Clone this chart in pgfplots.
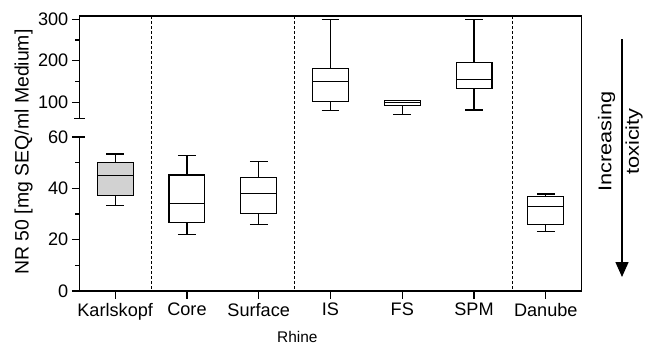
\documentclass[border=0pt]{standalone}
\usepackage{pgfplots}
\pgfplotsset{compat=1.18}
\usepgfplotslibrary{statistics}
\usetikzlibrary{arrows.meta}
\usepackage{fontspec}
\setmainfont{Liberation Sans}
\begin{document}
\begin{tikzpicture}
\useasboundingbox (0,0) rectangle (657bp,-344bp);
\pgfplotsset{
  common/.style={
    scale only axis, width=502.4bp, xmin=-0.5, xmax=6.5, clip=false,
    /pgf/number format/assume math mode=true,
    tick align=outside, major tick length=7.5bp, minor tick length=4bp,
    tick style={black, line width=1.1bp},
    axis line style={black, line width=1.2bp},
    ticklabel style={font=\fontsize{18.2}{21}\selectfont},
    boxplot/draw direction=y,
  },
  bx/.style={black, line width=1.1bp, solid},
}
% lower axis
\begin{axis}[common, at={(79.3bp,-291bp)}, anchor=south west, height=154bp,
  ymin=0, ymax=60, axis x line*=bottom, axis y line*=left,
  ytick={0,20,40,60}, minor ytick={10,30,50},
  xtick={0,1,2,3,4,5,6},
  xticklabels={Karlskopf,Core,Surface,IS,FS,SPM,Danube},
  xticklabel style={yshift=-1bp}]
\addplot[bx, fill=gray!35, boxplot prepared={draw position=0, box extend=0.5, whisker extend=0.25,
  lower whisker=33.2, lower quartile=37.1, median=45.1, upper quartile=49.9, upper whisker=53.4}] coordinates {};
\addplot[bx, fill=white, boxplot prepared={draw position=1, box extend=0.5, whisker extend=0.25,
  lower whisker=21.9, lower quartile=26.8, median=34.0, upper quartile=45.2, upper whisker=52.9}] coordinates {};
\addplot[bx, fill=white, boxplot prepared={draw position=2, box extend=0.5, whisker extend=0.25,
  lower whisker=25.8, lower quartile=30.3, median=37.9, upper quartile=44.2, upper whisker=50.3}] coordinates {};
\addplot[bx, fill=white, boxplot prepared={draw position=6, box extend=0.5, whisker extend=0.25,
  lower whisker=23.1, lower quartile=25.8, median=32.9, upper quartile=36.7, upper whisker=37.8}] coordinates {};
\end{axis}
% upper axis
\begin{axis}[common, at={(79.3bp,-118.6bp)}, anchor=south west, height=102.6bp,
  ymin=60, ymax=308, axis x line*=top, axis y line*=left,
  ytick={100,200,300}, minor ytick={150,250}, xtick=\empty]
\addplot[bx, fill=white, boxplot prepared={draw position=3, box extend=0.5, whisker extend=0.25,
  lower whisker=79.0, lower quartile=100.7, median=150.6, upper quartile=180.2, upper whisker=300}] coordinates {};
\addplot[bx, fill=white, boxplot prepared={draw position=4, box extend=0.5, whisker extend=0.25,
  lower whisker=69.4, lower quartile=91, median=100, upper quartile=103, upper whisker=104}] coordinates {};
\addplot[bx, fill=white, boxplot prepared={draw position=5, box extend=0.5, whisker extend=0.25,
  lower whisker=80.7, lower quartile=132, median=154.5, upper quartile=195.4, upper whisker=300}] coordinates {};
\end{axis}
% frame pieces, break caps, separators
\draw[line width=1.2bp] (581.7bp,-16bp) -- (581.7bp,-291bp);
\draw[line width=1.1bp] (74bp,-118.6bp) -- (85.3bp,-118.6bp);
\draw[line width=1.1bp] (74bp,-137bp) -- (85.3bp,-137bp);
\foreach \xx in {151,294.7,512}
  \draw[line width=1bp, dash pattern=on 3bp off 2bp] (\xx bp,-16bp) -- (\xx bp,-291bp);
% labels
\node[rotate=90, inner sep=0pt] at (23.5bp,-152bp)
  {\fontsize{19.5}{22}\selectfont NR 50 [mg SEQ/ml Medium]};
\node[inner sep=0pt] at (297.3bp,-336.5bp) {\fontsize{15.5}{18}\selectfont Rhine};
\node[rotate=90, inner sep=0pt] at (606.7bp,-141.5bp)
  {\scalebox{1.18}[1]{\fontsize{18.5}{22}\selectfont Increasing}};
\node[rotate=90, inner sep=0pt] at (634bp,-141.5bp)
  {\scalebox{1.18}[1]{\fontsize{18.5}{22}\selectfont toxicity}};
\draw[line width=1.5bp, -{Triangle[width=13bp,length=15bp]}] (622bp,-39bp) -- (622bp,-277bp);
\end{tikzpicture}
\end{document}
